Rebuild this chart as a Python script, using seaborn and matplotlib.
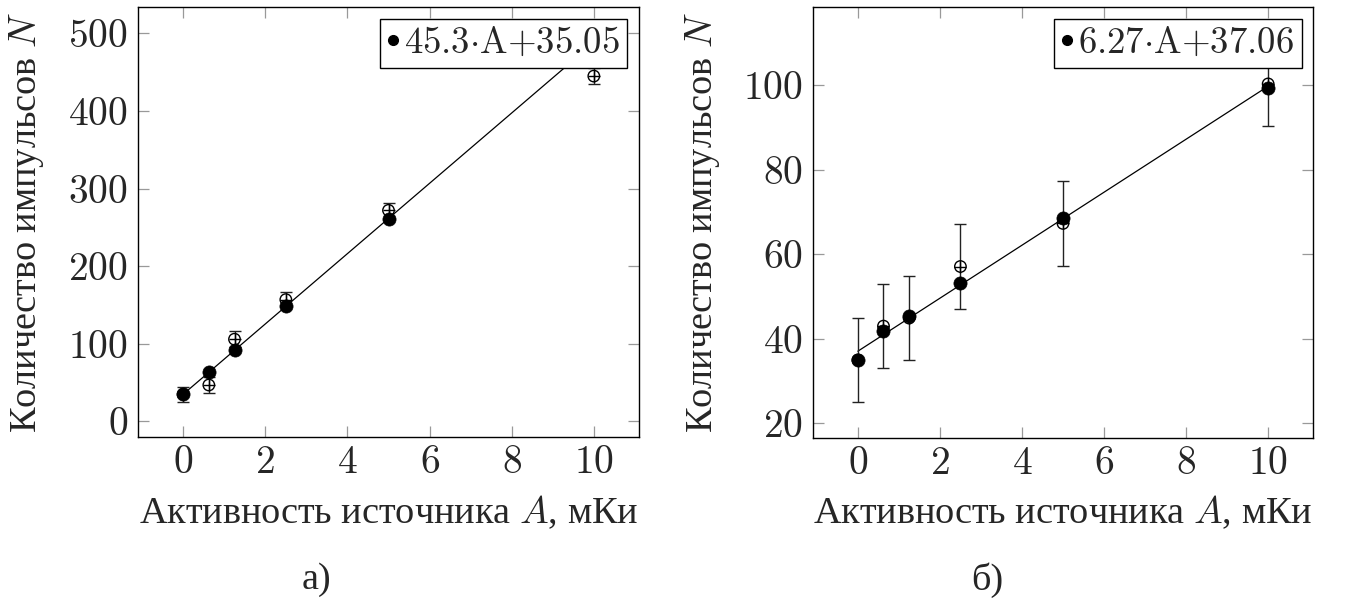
import matplotlib
matplotlib.use("Agg")
import matplotlib.pyplot as plt
from matplotlib.lines import Line2D
import numpy as np
import pandas as pd
import seaborn as sns

# ---------------- data ----------------
activity = [0, 0.625, 1.25, 2.5, 5, 10]

left_filled = [35.3, 63.5, 92.2, 148.5, 261.5, 488.0]
left_open = [35.0, 47.0, 106.0, 157.0, 272.0, 445.0]
left_err = [10, 10, 10, 10, 10, 10]
left_fit = [45.3, 35.05]          # slope, intercept
left_label = r"$45.3{\cdot}\mathrm{A}{+}35.05$"

right_filled = [35.0, 41.8, 45.5, 53.3, 68.5, 99.3]
right_open = [35.0, 43.0, 44.9, 57.1, 67.3, 100.3]
right_err = [10, 10, 10, 10, 10, 10]
right_fit = [6.27, 37.06]
right_label = r"$6.27{\cdot}\mathrm{A}{+}37.06$"

x_ticks = [0, 2, 4, 6, 8, 10]
left_yticks = [0, 100, 200, 300, 400, 500]
right_yticks = [20, 40, 60, 80, 100]

xlabel = "Активность источника $A$, мКи"
ylabel = "Количество импульсов $N$"
captions = ["а)", "б)"]

# ---------------- style ----------------
sns.set_theme(style="white")
plt.rcParams["font.family"] = ["Liberation Serif", "DejaVu Serif"]
plt.rcParams["mathtext.fontset"] = "cm"
plt.rcParams["axes.unicode_minus"] = False

FS_TICK = 28.5
FS_LABEL = 27.5
FS_LEG = 26.5
fig = plt.figure(figsize=(13.49, 6.04), dpi=100)
W, H = 1349, 604

def make_axes(x0, x1, y0, y1):
    return fig.add_axes([x0 / W, 1 - y1 / H, (x1 - x0) / W, (y1 - y0) / H])

ax_l = make_axes(138, 639, 7, 437)
ax_r = make_axes(812.7, 1313.3, 7, 437.7)

def draw(ax, filled, opn, err, fit, label, yticks, ylim):
    df_f = pd.DataFrame({"A": activity, "N": filled})
    df_o = pd.DataFrame({"A": activity, "N": opn})
    xs = np.array([activity[0], activity[-1]], dtype=float)
    df_line = pd.DataFrame({"A": xs, "N": fit[0] * xs + fit[1]})

    sns.lineplot(data=df_line, x="A", y="N", ax=ax, color="black", lw=0.9, zorder=2)
    ax.errorbar(activity, opn, yerr=err, fmt="none", ecolor="#222222",
                elinewidth=1.0, capsize=4.5, capthick=1.0, zorder=3)
    sns.scatterplot(data=df_o, x="A", y="N", ax=ax, marker="o", s=68,
                    facecolor="none", edgecolor="black", linewidth=1.0, zorder=4)
    sns.scatterplot(data=df_o, x="A", y="N", ax=ax, marker="+", s=68,
                    color="black", linewidth=1.0, zorder=4)
    sns.scatterplot(data=df_f, x="A", y="N", ax=ax, marker="o", s=90,
                    color="black", edgecolor="black", linewidth=0.5, zorder=5)

    ax.set_xlim(-1.1, 11.1)
    ax.set_ylim(*ylim)
    ax.set_xticks(x_ticks)
    ax.set_xticklabels([f"${v}$" for v in x_ticks])
    ax.set_yticks(yticks)
    ax.set_yticklabels([f"${v}$" for v in yticks])
    ax.tick_params(direction="in", length=8, width=0.9, color="#999999",
                   top=True, right=True, bottom=True, left=True,
                   labelsize=FS_TICK, pad=7)
    ax.tick_params(axis="x", pad=6)
    for sp in ax.spines.values():
        sp.set_color("black")
        sp.set_linewidth(1.0)
        sp.set_visible(True)

    ax.set_xlabel(xlabel, fontsize=FS_LABEL, va="center")
    ax.set_ylabel(ylabel, fontsize=FS_LABEL, va="center", ha="center")

    handle = Line2D([], [], marker="o", ls="none", color="black", markersize=7)
    leg = ax.legend([handle], [label], loc="upper right", fontsize=FS_LEG,
                    frameon=True, fancybox=False, framealpha=1.0,
                    edgecolor="black", handlelength=0.3, handletextpad=0.15,
                    borderpad=0.2, borderaxespad=0.32)
    leg.get_frame().set_linewidth(1.0)
    leg.set_zorder(10)

draw(ax_l, left_filled, left_open, left_err, left_fit, left_label,
     left_yticks, (-20, 534))
draw(ax_r, right_filled, right_open, right_err, right_fit, right_label,
     right_yticks, (16.6, 118.5))

ax_l.xaxis.set_label_coords(0.5, (437 - 512) / 430)
ax_r.xaxis.set_label_coords(0.5, (437.7 - 512) / 430.7)
ax_l.yaxis.set_label_coords((27 - 138) / 501, 0.5)
ax_r.yaxis.set_label_coords((703 - 812.7) / 500.6, 0.5)

fig.text(316 / W, 1 - 580 / H, captions[0], fontsize=FS_LABEL, ha="center", va="center")
fig.text(987 / W, 1 - 580 / H, captions[1], fontsize=FS_LABEL, ha="center", va="center")

fig.savefig("out.png", dpi=100, facecolor="white")
